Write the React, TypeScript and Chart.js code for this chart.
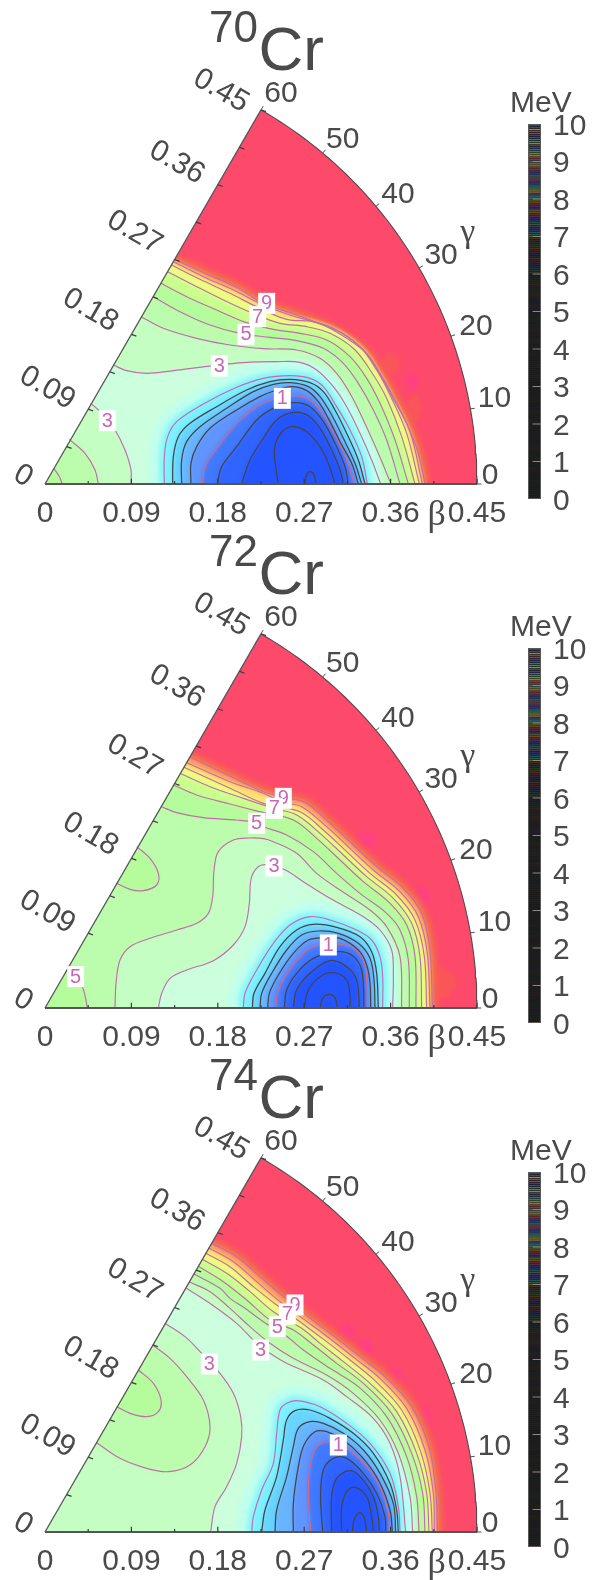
import React, { useEffect, useRef } from "react";
import { Chart, registerables } from "chart.js";

Chart.register(...registerables);

// Contour values are stored as integers: 2880 units = 1.0 of beta (x = b cos g, y = b sin g).
const UNITS_PER_BETA = 2880;
type P = number[][];

const betaTickValues = [0, 0.09, 0.18, 0.27, 0.36, 0.45];
const betaTickText = ["0", "0.09", "0.18", "0.27", "0.36", "0.45"];
const betaMinorTicks = [0.045, 0.135, 0.225, 0.315, 0.405];
const gammaTickValues = [0, 10, 20, 30, 40, 50, 60];
const colorbarTicks = [0, 1, 2, 3, 4, 5, 6, 7, 8, 9, 10];
const isotopeMass = ["70", "72", "74"];

// ---- 70Cr contours ----
const a10: P = [[392,672],[485,630],[575,590],[655,542],[755,507],[835,477],[905,437],[965,392],[1005,332],[1045,262],[1085,182],[1120,92],[1140,0]];
const a9: P = [[387,666],[475,622],[565,582],[655,537],[735,507],[820,482],[890,452],[955,402],[1000,337],[1040,265],[1095,157],[1132,0]];
const a8: P = [[380,657],[465,614],[555,572],[645,527],[725,494],[805,487],[875,462],[945,412],[995,342],[1035,267],[1085,152],[1123,0]];
const a7: P = [[368,637],[445,597],[535,552],[635,507],[705,482],[785,472],[855,452],[930,402],[985,327],[1025,257],[1070,142],[1110,0]];
const a6: P = [[348,602],[425,562],[515,522],[605,484],[685,464],[765,452],[845,432],[915,382],[965,317],[1005,242],[1050,132],[1090,0]];
const a5: P = [[325,562],[405,517],[495,477],[585,452],[675,440],[755,430],[835,407],[895,362],[940,302],[985,222],[1025,132],[1065,0]];
const a4: P = [[288,502],[355,467],[455,437],[555,417],[655,406],[755,402],[825,377],[875,332],[915,272],[955,192],[1000,92],[1038,0]];
const a3: P = [[205,357],[245,340],[305,332],[385,340],[505,355],[595,364],[695,367],[765,365],[815,342],[865,292],[905,232],[945,152],[980,72],[1007,0]];
const a3low: P = [[138,242],[170,212],[210,162],[240,102],[258,42],[258,0]];
const a4low: P = [[73,134],[120,92],[150,42],[160,0]];
const a5low: P = [[27,46],[42,24],[52,0]];
const a2: P = [[358,0],[358,82],[368,142],[395,187],[475,240],[575,290],[655,317],[735,325],[795,317],[835,292],[875,232],[915,162],[950,82],[967,0]];
const a175: P = [[383,0],[385,82],[400,142],[435,182],[515,232],[605,282],[675,307],[735,314],[795,304],[835,277],[870,222],[905,152],[940,72],[960,0]];
const a15: P = [[410,0],[410,72],[425,127],[465,172],[545,227],[625,277],[685,299],[735,304],[790,292],[825,262],[860,207],[895,137],[930,62],[950,0]];
const a125: P = [[438,0],[438,62],[455,112],[495,167],[575,222],[645,262],[695,282],[740,292],[785,280],[820,247],[850,197],[885,127],[920,62],[940,0]];
const a1: P = [[472,0],[480,52],[515,107],[575,182],[635,232],[685,255],[745,265],[795,252],[835,207],[875,137],[905,72],[928,0]];
const a08: P = [[517,0],[530,52],[575,112],[635,192],[685,227],[745,244],[795,232],[835,187],[870,122],[900,52],[910,0]];
const a06: P = [[590,0],[615,72],[655,137],[695,192],[745,215],[790,205],[825,167],[860,102],[885,42],[895,0]];
const a04: P = [[700,0],[692,52],[688,102],[700,142],[725,167],[750,172],[785,157],[825,112],[850,62],[870,0]];
const a02: P = [[780,0],[785,27],[796,37],[807,27],[813,0]];
const aLabels: (string | number)[][] = [["9",665,542],["7",638,502],["5",603,449],["3",523,354],["3",187,190],["1",712,257]];
const aMagenta: P = [[1080,307],[1100,335],[1122,307],[1100,275]];
const aRed: P = [[1085,232],[1105,270],[1128,232],[1105,180]];
const aRed2: P = [[1010,368],[1035,395],[1065,362],[1035,325]];

// ---- 72Cr contours ----
const b10: P = [[435,753],[555,696],[655,649],[735,629],[785,614],[855,554],[925,489],[995,424],[1075,359],[1130,284],[1155,174],[1162,0]];
const b9: P = [[425,736],[555,679],[655,644],[715,617],[770,604],[845,544],[915,479],[985,414],[1065,349],[1120,274],[1147,164],[1155,0]];
const b8: P = [[417,722],[555,659],[655,614],[765,589],[835,534],[905,469],[975,404],[1055,339],[1110,264],[1138,154],[1145,0]];
const b7: P = [[405,704],[495,664],[595,629],[685,599],[755,579],[825,524],[895,459],[965,394],[1045,329],[1100,254],[1125,154],[1130,0]];
const b6: P = [[385,669],[455,639],[555,612],[640,590],[745,564],[815,509],[885,444],[955,379],[1035,314],[1085,249],[1110,154],[1113,0]];
const b5: P = [[350,604],[395,586],[475,571],[575,564],[635,556],[655,544],[725,519],[805,469],[875,404],[945,344],[1025,284],[1065,234],[1090,144],[1093,0]];
const b5low: P = [[68,117],[100,89],[117,49],[127,0]];
const b5lobe: P = [[275,484],[315,449],[340,404],[335,369],[295,352],[255,356],[215,374]];
const b4: P = [[210,0],[213,74],[225,144],[255,184],[315,209],[395,234],[455,254],[490,284],[503,334],[507,414],[520,469],[565,504],[615,510],[655,508],[685,499],[755,464],[815,404],[885,354],[975,294],[1025,244],[1065,154],[1070,0]];
const b3: P = [[340,0],[350,44],[375,89],[425,114],[505,142],[565,189],[600,244],[613,314],[620,394],[650,429],[715,417],[775,379],[855,329],[955,274],[1005,234],[1040,174],[1045,94],[1043,0]];
const b2: P = [[595,0],[600,44],[635,114],[685,194],[735,249],[795,274],[855,264],[935,234],[980,204],[1005,154],[1013,94],[1013,0]];
const b175: P = [[622,0],[627,44],[660,104],[705,184],[755,234],[805,251],[875,242],[945,214],[980,169],[995,104],[1000,0]];
const b15: P = [[645,0],[650,44],[680,104],[725,174],[770,219],[820,231],[880,224],[940,194],[975,149],[987,84],[990,0]];
const b125: P = [[668,0],[673,44],[700,99],[745,164],[790,204],[840,211],[885,209],[940,174],[965,129],[975,74],[977,0]];
const b1: P = [[692,0],[697,44],[720,94],[765,154],[805,184],[875,192],[925,179],[955,144],[965,84],[967,0]];
const b08: P = [[718,0],[725,54],[755,104],[805,149],[875,169],[920,159],[950,114],[957,0]];
const b06: P = [[745,0],[755,54],[795,104],[855,142],[905,124],[935,84],[943,0]];
const b04: P = [[777,0],[790,54],[825,94],[865,106],[905,84],[915,34],[915,0]];
const b02: P = [[825,0],[833,29],[853,41],[871,29],[877,0]];
const bLabels: (string | number)[][] = [["9",715,629],["7",688,599],["5",635,554],["3",687,426],["5",92,94],["1",850,189]];
const bMagenta: P = [[935,504],[965,535],[995,504],[965,473]];
const bMagenta2: P = [[1105,334],[1130,370],[1155,334],[1130,298]];
const bRed: P = [[1185,130],[1235,80],[1190,25],[1165,75]];

// ---- 74Cr contours ----
const c10: P = [[500,866],[575,826],[645,766],[715,706],[815,626],[875,581],[945,526],[1020,466],[1100,376],[1153,251],[1173,116],[1177,0]];
const c9: P = [[492,852],[565,811],[635,751],[705,691],[800,621],[860,576],[930,521],[1005,461],[1085,371],[1140,246],[1165,116],[1168,0]];
const c8: P = [[483,836],[555,796],[625,736],[695,681],[785,616],[845,571],[915,516],[990,454],[1070,366],[1127,241],[1155,116],[1162,0]];
const c7: P = [[472,818],[545,776],[615,721],[685,661],[770,611],[825,566],[895,511],[975,446],[1055,361],[1115,236],[1145,116],[1152,0]];
const c6: P = [[460,797],[535,751],[605,696],[675,636],[745,606],[805,561],[875,506],[955,446],[1040,356],[1100,236],[1133,116],[1140,0]];
const c5: P = [[447,774],[525,731],[555,701],[600,671],[655,631],[720,591],[775,546],[855,491],[940,436],[1025,346],[1085,226],[1115,106],[1122,0]];
const c4: P = [[433,750],[495,721],[555,671],[615,616],[675,566],[745,521],[845,471],[925,416],[1005,336],[1060,236],[1095,106],[1103,0]];
const c3: P = [[423,732],[495,686],[575,626],[635,566],[675,536],[725,506],[835,456],[905,406],[985,341],[1035,266],[1065,166],[1082,0]];
const c3left: P = [[360,626],[420,586],[470,536],[525,476],[565,416],[587,346],[590,286],[575,206],[545,136],[510,76],[497,0]];
const c4lobe: P = [[155,268],[225,221],[305,191],[370,181],[435,201],[480,256],[495,316],[475,396],[425,466],[375,521],[323,561]];
const c5lobe: P = [[280,486],[325,446],[348,396],[340,361],[305,346],[255,356],[215,376]];
const c2: P = [[620,0],[625,46],[650,126],[685,206],[695,296],[705,366],[725,386],[755,394],[825,376],[905,326],[975,266],[1035,176],[1060,76],[1065,0]];
const c175: P = [[650,0],[660,66],[695,166],[715,276],[725,336],[750,364],[795,366],[855,341],[925,296],[985,236],[1035,146],[1055,66],[1060,0]];
const c15: P = [[690,0],[695,66],[725,166],[745,256],[760,311],[795,331],[835,326],[895,296],[955,246],[1005,176],[1045,86],[1052,0]];
const c125: P = [[745,0],[745,86],[760,196],[777,261],[810,301],[845,301],[895,276],[950,226],[1000,156],[1035,66],[1042,0]];
const c1: P = [[797,0],[790,106],[795,196],[815,256],[855,271],[905,251],[965,196],[1005,136],[1030,56],[1033,0]];
const c08: P = [[833,0],[827,106],[835,186],[865,221],[905,221],[955,176],[995,116],[1020,46],[1022,0]];
const c06: P = [[860,0],[860,106],[875,161],[915,184],[950,161],[985,106],[1000,46],[1003,0]];
const c04: P = [[890,0],[890,76],[905,121],[930,134],[965,106],[980,46],[985,0]];
const c02: P = [[922,0],[927,36],[943,58],[957,46],[965,0]];
const cLabels: (string | number)[][] = [["9",750,681],["7",727,654],["5",697,616],["3",647,546],["3",493,504],["1",880,261]];
const cMagenta: P = [[878,601],[905,630],[932,601],[905,572]];
const cMagenta2: P = [[932,551],[960,582],[988,551],[960,520]];
const cMagenta3: P = [[1020,471],[1045,498],[1072,471],[1045,442]];
const cMagenta4: P = [[1110,346],[1135,382],[1160,346],[1135,308]];
const cRed: P = [[1075,356],[1100,388],[1125,356],[1100,324]];

// ---- colours ----
const PINK = "#FE4A6A";
const BAND: Record<string, string> = {
  e10: "#FF9C62", e9: "#FFE070", e8: "#ECFF80", e7: "#CAFF8E", e6: "#B4FC9C", e5: "#BBFDAC",
  e4: "#C4FEC2", e3: "#CBFFDE", e2: "#7CF0FF", e175: "#68D4FF", e15: "#68B4FF",
  e125: "#6094FF", e1: "#4078FF", e08: "#3064FF", e06: "#2454FF", e04: "#2050FF",
};
const CONTOUR_PINK = "#C26CAC";
const CONTOUR_RED = "#E0647A";
const CONTOUR_BLACK = "#454545";
const TEXT = "#4a4a4a";
const SPOT_MAGENTA = "#FF4280";
const SPOT_RED = "#FA5658";
const SANS = "'Liberation Sans', Arial, sans-serif";
const SERIF = "'Liberation Serif', serif";

const xy = (pts: P) => pts.map(([x, y]) => ({ x: x / UNITS_PER_BETA, y: y / UNITS_PER_BETA }));
const out = ([x, y]: number[]) => [x - 30, y + 17];
const upper = (c: P): P => [...c, [c[c.length - 1][0], -36], [-36, -36], out(c[0])];
const dome = (c: P): P => [[c[0][0], -36], ...c, [c[c.length - 1][0], -36]];
const lobe = (c: P): P => [...c, out(c[c.length - 1]), out(c[0])];
const between = (u: P, l: P): P => [...u, [u[u.length - 1][0], -36], [l[l.length - 1][0], -36], ...[...l].reverse(), out(l[0]), out(u[0])];

const fillDs = (pts: P, color: string) => ({ data: xy(pts), showLine: true, fill: "shape", backgroundColor: color, borderWidth: 0, tension: 0.35, pointRadius: 0 });
const halo = (pts: P, color: string, w: number) => ({ data: xy(pts), showLine: true, fill: false, borderColor: color, borderWidth: w, tension: 0.35, pointRadius: 0 });
const line = (pts: P, color: string, w = 1.15) => ({ data: xy(pts), showLine: true, fill: false, borderColor: color, borderWidth: w, tension: 0.35, pointRadius: 0 });

const D2R = Math.PI / 180;
const polar = (b: number, g: number) => ({ x: b * Math.cos(g * D2R), y: b * Math.sin(g * D2R) });

function frameDatasets() {
  const arc: { x: number; y: number }[] = [];
  for (let g = 0; g <= 60; g++) arc.push(polar(0.45, g));
  const tip = polar(0.45, 60);
  const edgeTicks: { x: number; y: number }[] = [];
  [...betaTickValues, ...betaMinorTicks].forEach((b) => {
    if (b === 0) return;
    const p = polar(b, 60);
    edgeTicks.push(p, { x: p.x + 0.0055 * Math.cos(20 * D2R), y: p.y - 0.0055 * Math.sin(20 * D2R) }, { x: NaN, y: NaN });
  });
  const baseTicks: { x: number; y: number }[] = [];
  betaTickValues.forEach((b) => { if (b > 0) baseTicks.push({ x: b, y: 0 }, { x: b, y: 0.0055 }, { x: NaN, y: NaN }); });
  betaMinorTicks.forEach((b) => baseTicks.push({ x: b, y: 0 }, { x: b, y: 0.003 }, { x: NaN, y: NaN }));
  const arcTicks: { x: number; y: number }[] = [];
  gammaTickValues.forEach((g) => { arcTicks.push(polar(0.45, g), polar(0.4545, g), { x: NaN, y: NaN }); });
  const base = (data: any, w: number, c = "#4c4c4c") => ({ data, showLine: true, fill: false, borderColor: c, borderWidth: w, pointRadius: 0, tension: 0, spanGaps: false });
  return [
    base(arc, 1.1),
    base([{ x: 0, y: 0 }, tip], 1.3, "#555555"),
    base([{ x: 0, y: 0 }, { x: 0.45, y: 0 }], 2, "#555555"),
    base(edgeTicks, 1.2, "#3c3c3c"),
    base(baseTicks, 1.2, "#3c3c3c"),
    base(arcTicks, 1, "#4c4c4c"),
  ];
}

const spot = (pts: P, color: string) => ({ data: xy([...pts, pts[0]]), showLine: true, fill: "shape", backgroundColor: color, borderWidth: 0, tension: 0.4, pointRadius: 0 });
const baseFill = () => fillDs([[-60, -60], [1400, -60], [1400, 1300], [-60, 1300]], PINK);

function endBlur(d: any) { d.endBlur = true; return d; }

function panelA() {
  return [
    baseFill(), spot(aMagenta, SPOT_MAGENTA), spot(aRed, SPOT_RED), spot(aRed2, SPOT_RED), halo(a10, "#F4664E", 12),
    fillDs(upper(a10), BAND.e10), fillDs(upper(a9), BAND.e9), fillDs(upper(a8), BAND.e8),
    fillDs(upper(a7), BAND.e7), fillDs(upper(a6), BAND.e6), fillDs(upper(a5), BAND.e5),
    fillDs(upper(a4), BAND.e4),
    fillDs(upper(a4low), BAND.e5), fillDs(upper(a5low), BAND.e6),
    fillDs(between(a3, a3low), BAND.e3), halo(a2, "#C0FFEE", 30), halo(a2, "#90F8F8", 11),
    fillDs(dome(a2), BAND.e2), fillDs(dome(a175), BAND.e175), fillDs(dome(a15), BAND.e15),
    fillDs(dome(a125), BAND.e125), fillDs(dome(a1), BAND.e1), fillDs(dome(a08), BAND.e08),
    endBlur(fillDs(dome(a06), BAND.e06)),
    ...[a10, a9, a8, a7, a6, a5, a4, a3, a3low, a4low, a5low, a2].map((c) => line(c, CONTOUR_PINK)),
    ...[a175, a15, a125, a08, a06, a04, a02].map((c) => line(c, CONTOUR_BLACK, 1.25)),
    line(a1, CONTOUR_RED),
    ...frameDatasets(),
  ];
}
function panelB() {
  return [
    baseFill(), spot(bMagenta, SPOT_MAGENTA), spot(bMagenta2, SPOT_MAGENTA), spot(bRed, SPOT_RED), halo(b10, "#F4664E", 12),
    fillDs(upper(b10), BAND.e10), fillDs(upper(b9), BAND.e9), fillDs(upper(b8), BAND.e8),
    fillDs(upper(b7), BAND.e7), fillDs(upper(b6), BAND.e6), fillDs(upper(b5), BAND.e5),
    fillDs(upper(b5low), BAND.e6), fillDs(lobe(b5lobe), BAND.e6),
    fillDs(dome(b4), BAND.e4), fillDs(dome(b3), BAND.e3), halo(b2, "#C0FFEE", 30), halo(b2, "#90F8F8", 11),
    fillDs(dome(b2), BAND.e2), fillDs(dome(b175), BAND.e175), fillDs(dome(b15), BAND.e15),
    fillDs(dome(b125), BAND.e125), fillDs(dome(b1), BAND.e1), fillDs(dome(b08), BAND.e08),
    endBlur(fillDs(dome(b06), BAND.e06)),
    ...[b10, b9, b8, b7, b6, b5, b5low, b5lobe, b4, b3, b2].map((c) => line(c, CONTOUR_PINK)),
    ...[b175, b15, b125, b08, b06, b04, b02].map((c) => line(c, CONTOUR_BLACK, 1.25)),
    line(b1, CONTOUR_RED),
    ...frameDatasets(),
  ];
}
function panelC() {
  return [
    baseFill(), spot(cMagenta, SPOT_MAGENTA), spot(cMagenta2, SPOT_MAGENTA), spot(cMagenta3, SPOT_MAGENTA), spot(cMagenta4, SPOT_MAGENTA), spot(cRed, SPOT_RED), halo(c10, "#F4664E", 12),
    fillDs(upper(c10), BAND.e10), fillDs(upper(c9), BAND.e9), fillDs(upper(c8), BAND.e8),
    fillDs(upper(c7), BAND.e7), fillDs(upper(c6), BAND.e6), fillDs(upper(c5), BAND.e5),
    fillDs(upper(c4), BAND.e4),
    fillDs(lobe(c4lobe), BAND.e5), fillDs(lobe(c5lobe), BAND.e6),
    fillDs(between(c3, c3left), BAND.e3), halo(c2, "#C0FFEE", 30), halo(c2, "#90F8F8", 11),
    fillDs(dome(c2), BAND.e2), fillDs(dome(c175), BAND.e175), fillDs(dome(c15), BAND.e15),
    fillDs(dome(c125), BAND.e125), fillDs(dome(c1), BAND.e1), fillDs(dome(c08), BAND.e08),
    endBlur(fillDs(dome(c06), BAND.e06)),
    ...[c10, c9, c8, c7, c6, c5, c4, c3, c3left, c4lobe, c5lobe, c2].map((k) => line(k, CONTOUR_PINK)),
    ...[c175, c15, c125, c08, c06, c04, c02].map((k) => line(k, CONTOUR_BLACK, 1.25)),
    line(c1, CONTOUR_RED),
    ...frameDatasets(),
  ];
}

// layout offsets of the axis texts (px from the matching tick on the frame)
const EDGE_OFFSETS = [[-22, -8], [-41, -21], [-41, -24], [-40, -27], [-41, -22], [-40, -19]];
const GAMMA_OFFSETS = [[13, -8], [24, -10], [25, -10], [22, -12], [22, -12], [20, -13], [20, -16]];

function mapPlugin(mass: string, labels: (string | number)[][]) {
  return {
    id: "map",
    beforeDatasetsDraw(chart: any) {
      const { ctx, scales: { x, y } } = chart;
      const ox = x.getPixelForValue(0), oy = y.getPixelForValue(0);
      const R = x.getPixelForValue(0.45) - ox;
      ctx.save();
      ctx.beginPath();
      ctx.moveTo(ox, oy + 1);
      ctx.lineTo(ox + R * Math.cos(60 * D2R), oy - R * Math.sin(60 * D2R));
      ctx.arc(ox, oy, R, -60 * D2R, 0);
      ctx.lineTo(ox + R, oy + 1);
      ctx.closePath();
      ctx.clip();
      ctx.filter = "blur(2.2px)";
    },
    afterDatasetDraw(chart: any, args: any) {
      if (chart.data.datasets[args.index].endBlur) chart.ctx.restore();
    },
    afterDatasetsDraw(chart: any) {
      const { ctx, scales: { x, y } } = chart;
      const px = (v: number) => x.getPixelForValue(v);
      const py = (v: number) => y.getPixelForValue(v);
      ctx.save();
      // contour labels
      labels.forEach(([t, a, b]) => {
        const cx = px((a as number) / UNITS_PER_BETA), cy = py((b as number) / UNITS_PER_BETA);
        ctx.fillStyle = "#ffffff";
        ctx.fillRect(cx - 8.5, cy - 10.5, 17, 21);
        ctx.fillStyle = "#C868B4";
        ctx.font = `20px ${SANS}`;
        ctx.textAlign = "center";
        ctx.textBaseline = "middle";
        ctx.fillText(String(t), cx, cy + 0.5);
      });
      ctx.fillStyle = TEXT;
      // beta labels along the 60 degree edge
      ctx.font = `30px ${SANS}`;
      betaTickValues.forEach((b, i) => {
        const p = polar(b, 60);
        ctx.save();
        ctx.translate(px(p.x) + EDGE_OFFSETS[i][0], py(p.y) + EDGE_OFFSETS[i][1]);
        ctx.rotate(30 * D2R);
        ctx.textAlign = "center";
        ctx.textBaseline = "middle";
        ctx.fillText(betaTickText[i], 0, 0);
        ctx.restore();
      });
      // gamma labels
      ctx.textAlign = "center";
      ctx.textBaseline = "middle";
      gammaTickValues.forEach((g, i) => {
        const p = polar(0.45, g);
        ctx.fillText(String(g), px(p.x) + GAMMA_OFFSETS[i][0], py(p.y) + GAMMA_OFFSETS[i][1]);
      });
      // axis symbols
      ctx.font = `36px ${SERIF}`;
      ctx.fillText("β", px(0.408), py(0) + 32);
      ctx.font = `34px ${SERIF}`;
      ctx.fillText("γ", px(0.4405), py(0.2615));
      // title
      ctx.textAlign = "left";
      ctx.textBaseline = "alphabetic";
      ctx.font = `44px ${SANS}`;
      ctx.fillText(mass, 209, 42);
      ctx.font = `62px ${SANS}`;
      ctx.fillText("Cr", 258.5, 70);
      ctx.restore();
    },
  };
}

function MapChart({ panel, top, mass, labels }: any) {
  const ref = useRef<HTMLCanvasElement>(null);
  useEffect(() => {
    const chart = new Chart(ref.current as any, {
      type: "scatter",
      data: { datasets: panel().reverse() },
      options: {
        animation: false,
        responsive: false,
        events: [],
        layout: { padding: { left: 25, right: 95, top: 100, bottom: 12 } },
        plugins: { legend: { display: false }, tooltip: { enabled: false }, title: { display: false } },
        scales: {
          x: {
            type: "linear",
            min: -20 / 960,
            max: 452 / 960,
            afterBuildTicks: (s: any) => { s.ticks = betaTickValues.map((value) => ({ value })); },
            afterFit: (s: any) => { s.height = 29; },
            grid: { display: false, drawTicks: false },
            border: { display: false },
            ticks: {
              autoSkip: false,
              maxRotation: 0,
              padding: 1,
              color: TEXT,
              font: { family: SANS, size: 30 },
              callback: (v: any) => { const i = betaTickValues.indexOf(v); return i >= 0 ? betaTickText[i] : ""; },
            },
          },
          y: { type: "linear", display: false, min: -11 / 960, max: 384 / 960 },
        },
      } as any,
      plugins: [mapPlugin(mass, labels)] as any,
    });
    return () => chart.destroy();
  }, []);
  return <canvas ref={ref} width={592} height={536} style={{ position: "absolute", left: 0, top, display: "block" }} />;
}

// ---- colour bar ----
const stripeHues = ["#b84038", "#40a058", "#3048b0", "#c89030", "#308898", "#904098", "#a89830", "#3850a0"];
const levelBrightness = [0.05, 0.05, 0.05, 0.06, 0.07, 0.1, 0.22, 0.5, 0.75, 0.85];
const alphaHex = (a: number) => Math.round(a * 255).toString(16).padStart(2, "0");
const TICK_TEXT_NUDGE = 0.06;

function colorbarDatasets() {
  const levels: number[] = [];
  const colors: string[] = [];
  for (let i = 0; i < 186; i++) {
    const v = ((i + 0.25) * 10) / 186;
    levels.push(v);
    colors.push(stripeHues[(i * 3 + (i >> 3)) % stripeHues.length] + alphaHex(levelBrightness[Math.floor(v)]));
  }
  return [
    {
      data: colorbarTicks.slice(1, 10).map((y) => ({ x: 0.68, y })),
      pointStyle: "line", pointRadius: 4.2, pointBorderWidth: 1, pointBorderColor: "#8a8a8a", showLine: false,
    },
    { data: [{ x: 0, y: 0 }, { x: 0, y: 10 }, { x: 1, y: 10 }, { x: 1, y: 0 }, { x: 0, y: 0 }], showLine: true, fill: false, borderColor: "#5a5a5a", borderWidth: 2, pointRadius: 0, tension: 0 },
    {
      data: levels.map((y) => ({ x: 0.5, y })),
      pointStyle: "line", pointRadius: 6.5, pointBorderWidth: 1.3, pointBorderColor: colors, showLine: false,
    },
    { data: [{ x: 0, y: 0 }, { x: 0, y: 10 }, { x: 1, y: 10 }, { x: 1, y: 0 }], showLine: true, fill: "shape", backgroundColor: "#1b1b1b", borderWidth: 0, pointRadius: 0, tension: 0 },
  ];
}

const meVPlugin = {
  id: "mev",
  afterDraw(chart: any) {
    const { ctx } = chart;
    ctx.save();
    ctx.fillStyle = TEXT;
    ctx.font = `30px ${SANS}`;
    ctx.textAlign = "left";
    ctx.textBaseline = "alphabetic";
    ctx.fillText("MeV", 10, 22);
    ctx.restore();
  },
};

function Colorbar({ top }: any) {
  const ref = useRef<HTMLCanvasElement>(null);
  useEffect(() => {
    const chart = new Chart(ref.current as any, {
      type: "scatter",
      data: { datasets: colorbarDatasets() },
      options: {
        animation: false,
        responsive: false,
        events: [],
        layout: { padding: { left: 28, right: 0, top: 34, bottom: 14 } },
        plugins: { legend: { display: false }, tooltip: { enabled: false } },
        scales: {
          x: { type: "linear", display: false, min: 0, max: 1 },
          y: {
            type: "linear",
            position: "right",
            min: 0,
            max: 10,
            afterBuildTicks: (s: any) => { s.ticks = colorbarTicks.map((v) => ({ value: v - TICK_TEXT_NUDGE })); },
            afterFit: (s: any) => { s.width = 51; },
            grid: { display: false, drawTicks: false },
            border: { display: false },
            ticks: { padding: 12, color: TEXT, font: { family: SANS, size: 30 }, autoSkip: false, callback: (v: any) => String(Math.round(v)) },
          },
        },
      } as any,
      plugins: [meVPlugin] as any,
    });
    return () => chart.destroy();
  }, []);
  return <canvas ref={ref} width={92} height={439} style={{ position: "absolute", left: 500, top, display: "block" }} />;
}

export default function App() {
  return (
    <div style={{ position: "absolute", left: 0, top: 0, width: 592, height: 1580, background: "#fff", overflow: "hidden" }}>
      <MapChart panel={panelA} top={0} mass={isotopeMass[0]} labels={aLabels} />
      <MapChart panel={panelB} top={524} mass={isotopeMass[1]} labels={bLabels} />
      <MapChart panel={panelC} top={1048} mass={isotopeMass[2]} labels={cLabels} />
      <Colorbar top={90} />
      <Colorbar top={614} />
      <Colorbar top={1138} />
    </div>
  );
}
